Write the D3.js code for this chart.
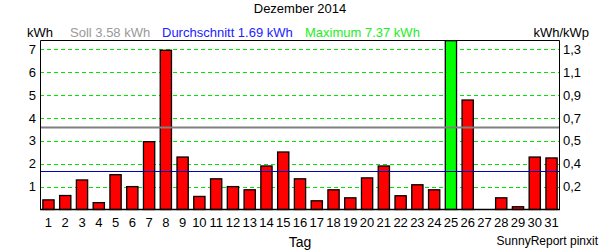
<!DOCTYPE html>
<html>
<head>
<meta charset="utf-8">
<script src="https://cdn.jsdelivr.net/npm/d3@7"></script>
<style>
	body { margin: 0; background: #fff; }
	text { font-family: "Liberation Sans", Arial, sans-serif; font-size: 13px; }
</style>
</head>
<body>
<svg id="chart" width="600" height="250"></svg>
<script>
// daily yield in kWh, Dezember 2014
var days = d3.range(1, 32);
var yieldKwh = [0.42, 0.61, 1.29, 0.30, 1.52, 1.00, 2.96, 6.95, 2.29, 0.57,
	1.34, 1.00, 0.86, 1.90, 2.51, 1.34, 0.38, 0.86, 0.51, 1.38,
	1.90, 0.60, 1.08, 0.86, 7.37, 4.78, 0, 0.51, 0.12, 2.29, 2.25];
var soll = 3.58;
var avg = 1.69;
var maxDay = 25;
var leftTicks = [1, 2, 3, 4, 5, 6, 7];
var rightTickLabels = ['0,2', '0,4', '0,5', '0,7', '0,9', '1,1', '1,3'];

var svg = d3.select('#chart');
var pLeft = 40, pRight = 560, pTop = 40, pBottom = 209.5;

var x = d3.scaleBand().domain(days).range([pLeft, pRight]).paddingInner(0.33).paddingOuter(0.17);
var y = d3.scaleLinear().domain([0, 7.4]).range([pBottom, pTop]);

//grid lines
svg.selectAll('.grid').data(leftTicks).enter().append('line')
	.attr('x1', pLeft).attr('x2', pRight)
	.attr('y1', function(d){ return Math.round(y(d)) + 0.5; })
	.attr('y2', function(d){ return Math.round(y(d)) + 0.5; })
	.attr('stroke', '#00e600').attr('stroke-dasharray', '4,3');

//bars
svg.selectAll('.bar').data(yieldKwh).enter().append('rect')
	.attr('x', function(d, i){ return x(days[i]); })
	.attr('width', x.bandwidth())
	.attr('y', function(d){ return y(d); })
	.attr('height', function(d){ return pBottom - y(d); })
	.attr('fill', function(d, i){ return days[i] == maxDay ? '#00ff00' : '#ff0000'; })
	.attr('stroke', 'black').attr('stroke-width', 1.3)
	.style('display', function(d){ return d > 0 ? null : 'none'; });

//soll and average lines
svg.append('line').attr('x1', pLeft).attr('x2', pRight)
	.attr('y1', y(soll)).attr('y2', y(soll))
	.attr('stroke', '#808080').attr('stroke-width', 2);
svg.append('line').attr('x1', pLeft).attr('x2', pRight)
	.attr('y1', Math.round(y(avg)) + 0.5).attr('y2', Math.round(y(avg)) + 0.5)
	.attr('stroke', '#0000c0').attr('stroke-width', 1);

//frame
svg.append('path')
	.attr('d', d3.line()([[pLeft + 0.5, pBottom], [pLeft + 0.5, pTop + 0.5], [pRight - 0.5, pTop + 0.5], [pRight - 0.5, pBottom]]))
	.attr('stroke', 'black').attr('fill', 'none');
svg.append('line').attr('x1', pLeft).attr('x2', pRight)
	.attr('y1', pBottom).attr('y2', pBottom).attr('stroke', 'black').attr('stroke-width', 1.5);

//axis labels
svg.selectAll('.ly').data(leftTicks).enter().append('text')
	.attr('x', 36).attr('y', function(d){ return y(d); }).attr('dy', '0.36em')
	.attr('text-anchor', 'end').text(function(d){ return d; });
svg.selectAll('.ry').data(rightTickLabels).enter().append('text')
	.attr('x', 563).attr('y', function(d, i){ return y(leftTicks[i]); }).attr('dy', '0.36em')
	.text(function(d){ return d; });
svg.selectAll('.lx').data(days).enter().append('text')
	.attr('x', function(d){ return x(d) + x.bandwidth()/2; }).attr('y', 226.5)
	.attr('text-anchor', 'middle').text(function(d){ return d; });

//titles
svg.append('text').attr('x', 300).attr('y', 13).attr('text-anchor', 'middle').text('Dezember 2014');
svg.append('text').attr('x', 27).attr('y', 37).text('kWh');
svg.append('text').attr('x', 70).attr('y', 37).attr('fill', '#999').text('Soll ' + soll.toFixed(2) + ' kWh');
svg.append('text').attr('x', 162).attr('y', 37).attr('fill', '#2222ff').text('Durchschnitt ' + avg.toFixed(2) + ' kWh');
svg.append('text').attr('x', 305).attr('y', 37).attr('fill', '#22ee22').text('Maximum ' + d3.max(yieldKwh).toFixed(2) + ' kWh');
svg.append('text').attr('x', 589).attr('y', 37).attr('text-anchor', 'end').text('kWh/kWp');
svg.append('text').attr('x', 300).attr('y', 247).attr('text-anchor', 'middle').style('font-size', '14px').text('Tag');
svg.append('text').attr('x', 598).attr('y', 245).attr('text-anchor', 'end').style('font-size', '12px').text('SunnyReport pinxit');
</script>
</body>
</html>
